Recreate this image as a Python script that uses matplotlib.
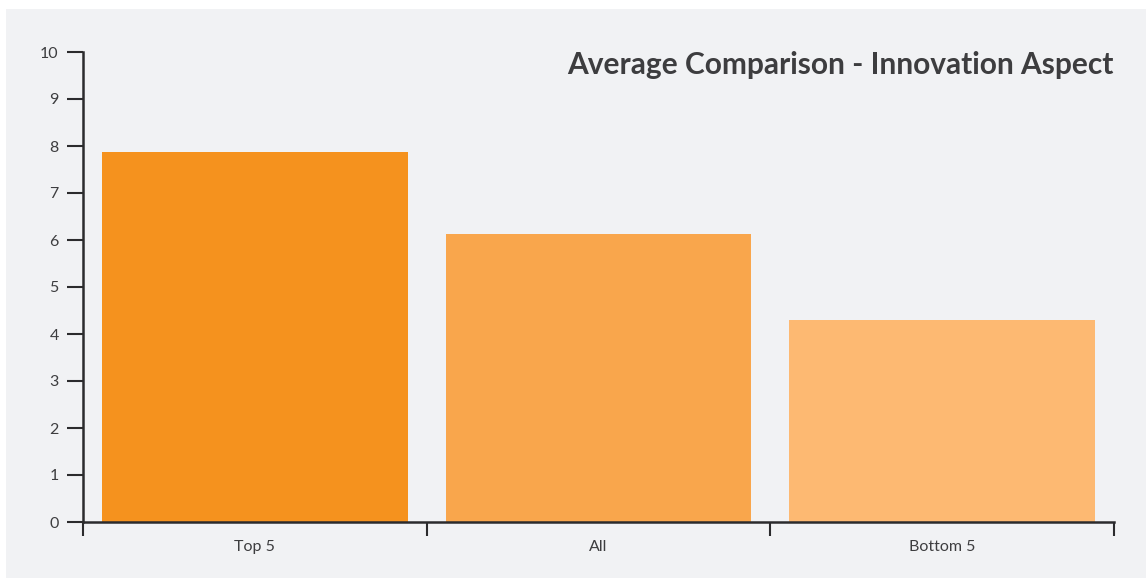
import matplotlib.pyplot as plt
from matplotlib.patches import Rectangle

categories = ["Top 5", "All", "Bottom 5"]
averages = [7.87, 6.13, 4.30]
bar_colors = ["#f5921e", "#f9a64c", "#fdb972"]

text_color = "#3d3d3f"
panel_color = "#f1f2f4"

plt.rcParams["font.family"] = ["Lato", "DejaVu Sans"]

fig = plt.figure(figsize=(11.46, 5.79), dpi=100)
fig.patch.set_facecolor("white")

# grey card behind the chart
fig.patches.append(Rectangle((6 / 1146, 0.002), 1 - 6 / 1146, 1 - 9 / 579 - 0.002,
                             transform=fig.transFigure, facecolor=panel_color,
                             edgecolor="none", zorder=-1))

ax = fig.add_axes([83 / 1146, 1 - 522 / 579, (1114 - 83) / 1146, (522 - 52) / 579])
ax.set_facecolor("none")

x = list(range(len(categories)))
ax.bar(x, averages, width=0.89, color=bar_colors, zorder=2)

ax.set_xlim(-0.5, len(categories) - 0.5)
ax.set_ylim(0, 10)
ax.set_yticks(range(0, 11))

# category boundaries get the ticks, labels sit in between
ax.set_xticks([i - 0.5 for i in range(len(categories) + 1)])
ax.set_xticklabels([])
ax.set_xticks(x, minor=True)
ax.set_xticklabels(categories, minor=True)
ax.tick_params(axis="x", which="major", direction="out", length=10, width=1.5, color="#2b2b2d")
ax.tick_params(axis="x", which="minor", length=0, pad=13, labelsize=11.5, labelcolor=text_color)
ax.tick_params(axis="y", direction="out", length=11.5, width=1.5, color="#2b2b2d",
               pad=6, labelsize=11.5, labelcolor=text_color)

for side in ["top", "right"]:
    ax.spines[side].set_visible(False)
for side in ["left", "bottom"]:
    ax.spines[side].set_linewidth(1.8)
    ax.spines[side].set_color("#2b2b2d")
    ax.spines[side].set_zorder(3)

ax.text(1.0, 0.972, "Average Comparison - Innovation Aspect", transform=ax.transAxes,
        ha="right", va="center", fontsize=21.5, fontweight="bold", color=text_color)

fig.savefig("out.png", dpi=100)
